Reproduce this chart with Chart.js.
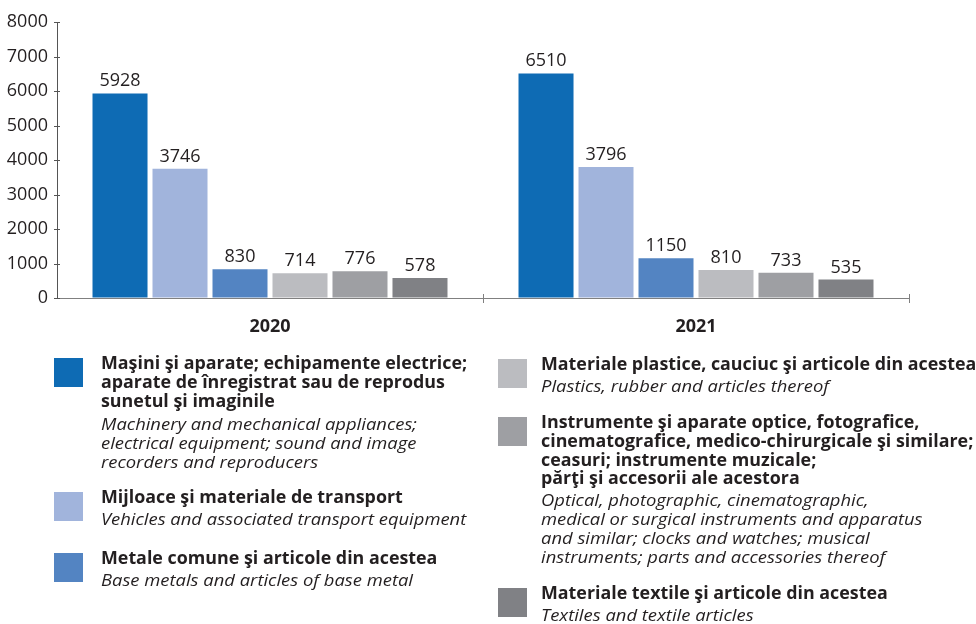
<!DOCTYPE html>
<html>
<head>
<meta charset="utf-8">
<script src="https://cdn.jsdelivr.net/npm/chart.js@4.4.1/dist/chart.umd.min.js"></script>
<style>
  html, body { margin: 0; padding: 0; background: #ffffff; }
  #wrap { position: relative; width: 976px; height: 624px; overflow: hidden; }
  #chart { position: absolute; left: 0; top: 0; }
  .sq { position: absolute; width: 29px; height: 29px; }
  .item { position: absolute; color: #231f20; font-family: "Open Sans", sans-serif; font-size: 17px; line-height: 18.8px; }
  .ln { white-space: nowrap; transform-origin: 0 0; }
  .b { font-weight: bold; }
  .i { font-style: italic; }
  .gap { margin-top: 3px; }
</style>
</head>
<body>
<div id="wrap">
  <canvas id="chart" width="976" height="624"></canvas>
</div>
<script>
// ---- data ----
const years = ['2020', '2021'];
const seriesNames = [
  'Maşini şi aparate; echipamente electrice; aparate de înregistrat sau de reprodus sunetul şi imaginile',
  'Mijloace şi materiale de transport',
  'Metale comune şi articole din acestea',
  'Materiale plastice, cauciuc şi articole din acestea',
  'Instrumente şi aparate optice, fotografice, cinematografice, medico-chirurgicale şi similare; ceasuri; instrumente muzicale; părţi şi accesorii ale acestora',
  'Materiale textile şi articole din acestea'
];
const machinery   = [5928, 6510];
const transport   = [3746, 3796];
const baseMetals  = [830, 1150];
const plastics    = [714, 810];
const instruments = [776, 733];
const textiles    = [578, 535];
const yTicks = [0, 1000, 2000, 3000, 4000, 5000, 6000, 7000, 8000];

const legendBold = [
  ['Maşini şi aparate; echipamente electrice;', 'aparate de înregistrat sau de reprodus', 'sunetul şi imaginile'],
  ['Mijloace şi materiale de transport'],
  ['Metale comune şi articole din acestea'],
  ['Materiale plastice, cauciuc şi articole din acestea'],
  ['Instrumente şi aparate optice, fotografice,', 'cinematografice, medico-chirurgicale şi similare;', 'ceasuri; instrumente muzicale;', 'părţi şi accesorii ale acestora'],
  ['Materiale textile şi articole din acestea']
];
const legendItalic = [
  ['Machinery and mechanical appliances;', 'electrical equipment; sound and image', 'recorders and reproducers'],
  ['Vehicles and associated transport equipment'],
  ['Base metals and articles of base metal'],
  ['Plastics, rubber and articles thereof'],
  ['Optical, photographic, cinematographic,', 'medical or surgical instruments and apparatus', 'and similar; clocks and watches; musical', 'instruments; parts and accessories thereof'],
  ['Textiles and textile articles']
];

// ---- styles ----
const colors = ['#0e6bb4', '#a1b4dc', '#5384c2', '#bbbcc0', '#9e9fa3', '#808185'];
const textColor = '#231f20';
const legendPos = [ // [squareLeft, squareTop, textLeft]
  [54, 358, 101], [54, 492, 101], [54, 553, 101],
  [498, 359, 541], [498, 417, 541], [498, 588, 541]
];

const allSeries = [machinery, transport, baseMetals, plastics, instruments, textiles];

const valueLabels = {
  id: 'valueLabels',
  afterDatasetsDraw(chart) {
    const ctx = chart.ctx;
    ctx.save();
    ctx.font = '18px "Open Sans"';
    ctx.fillStyle = textColor;
    ctx.textAlign = 'center';
    ctx.textBaseline = 'alphabetic';
    chart.data.datasets.forEach((ds, i) => {
      chart.getDatasetMeta(i).data.forEach((el, j) => {
        ctx.fillText(String(ds.data[j]), el.x, el.y - 7);
      });
    });
    ctx.restore();
  }
};

const axisTicks = {
  id: 'axisTicks',
  afterDraw(chart) {
    const ctx = chart.ctx;
    const y = chart.scales.y, x = chart.scales.x;
    ctx.save();
    ctx.strokeStyle = '#555555';
    ctx.lineWidth = 1;
    y.ticks.forEach((t) => {
      const py = Math.round(y.getPixelForValue(t.value)) + 0.5;
      ctx.beginPath();
      ctx.moveTo(x.left - 3, py);
      ctx.lineTo(x.left + 3, py);
      ctx.stroke();
    });
    ctx.strokeStyle = '#808080';
    const bounds = [];
    for (let i = 1; i < x.ticks.length; i++) {
      bounds.push((x.getPixelForTick(i - 1) + x.getPixelForTick(i)) / 2);
    }
    bounds.push(x.right);
    bounds.forEach((px) => {
      const p = Math.round(px) + 0.5;
      ctx.beginPath();
      ctx.moveTo(p, y.bottom - 4);
      ctx.lineTo(p, y.bottom + 5);
      ctx.stroke();
    });
    ctx.restore();
  }
};

new Chart(document.getElementById('chart'), {
  type: 'bar',
  data: {
    labels: years,
    datasets: allSeries.map((d, i) => ({
      label: seriesNames[i],
      data: d,
      backgroundColor: colors[i],
      borderWidth: 0,
      categoryPercentage: 0.845,
      barPercentage: 0.917
    }))
  },
  options: {
    responsive: false,
    animation: false,
    devicePixelRatio: 1,
    layout: { padding: { top: 22, right: 67, left: 0, bottom: 0 } },
    plugins: { legend: { display: false }, tooltip: { enabled: false }, title: { display: false } },
    scales: {
      x: {
        grid: { display: false, drawTicks: false },
        border: { display: true, color: '#808080', width: 1 },
        ticks: { color: textColor, font: { family: 'Open Sans', size: 18, weight: 'bold' }, padding: 18 },
        afterFit(s) { s.height = 326; }
      },
      y: {
        min: 0, max: 8000,
        afterBuildTicks(s) { s.ticks = yTicks.map(v => ({ value: v })); },
        grid: { drawOnChartArea: false, drawTicks: false },
        border: { display: true, color: '#555555', width: 1 },
        ticks: {
          color: textColor, font: { family: 'Open Sans', size: 18 }, padding: 9,
          callback: (v) => String(v)
        },
        afterFit(s) { s.width = 57; }
      }
    }
  },
  plugins: [valueLabels, axisTicks]
});

// ---- legend (HTML text) ----
const mctx = document.createElement('canvas').getContext('2d');
mctx.font = 'bold 17px "Open Sans"';
const boldScale = 366 / mctx.measureText(legendBold[0][0]).width;
mctx.font = 'italic 17px "Open Sans"';
const italicScale = 316 / mctx.measureText(legendItalic[0][0]).width;

const wrap = document.getElementById('wrap');
legendPos.forEach((p, i) => {
  const sq = document.createElement('div');
  sq.className = 'sq';
  sq.style.left = p[0] + 'px';
  sq.style.top = p[1] + 'px';
  sq.style.background = colors[i];
  wrap.appendChild(sq);
  const item = document.createElement('div');
  item.className = 'item';
  item.style.left = p[2] + 'px';
  item.style.top = (p[1] - 4) + 'px';
  legendBold[i].forEach(t => {
    const d = document.createElement('div');
    d.className = 'ln b';
    d.textContent = t;
    d.style.transform = 'scaleX(' + boldScale.toFixed(3) + ')';
    item.appendChild(d);
  });
  legendItalic[i].forEach((t, k) => {
    const d = document.createElement('div');
    d.className = 'ln i' + (k === 0 ? ' gap' : '');
    if (i === 0 && k === 0) d.style.marginTop = '5px';
    d.textContent = t;
    d.style.transform = 'scaleX(' + italicScale.toFixed(3) + ')';
    item.appendChild(d);
  });
  wrap.appendChild(item);
});
</script>
</body>
</html>
